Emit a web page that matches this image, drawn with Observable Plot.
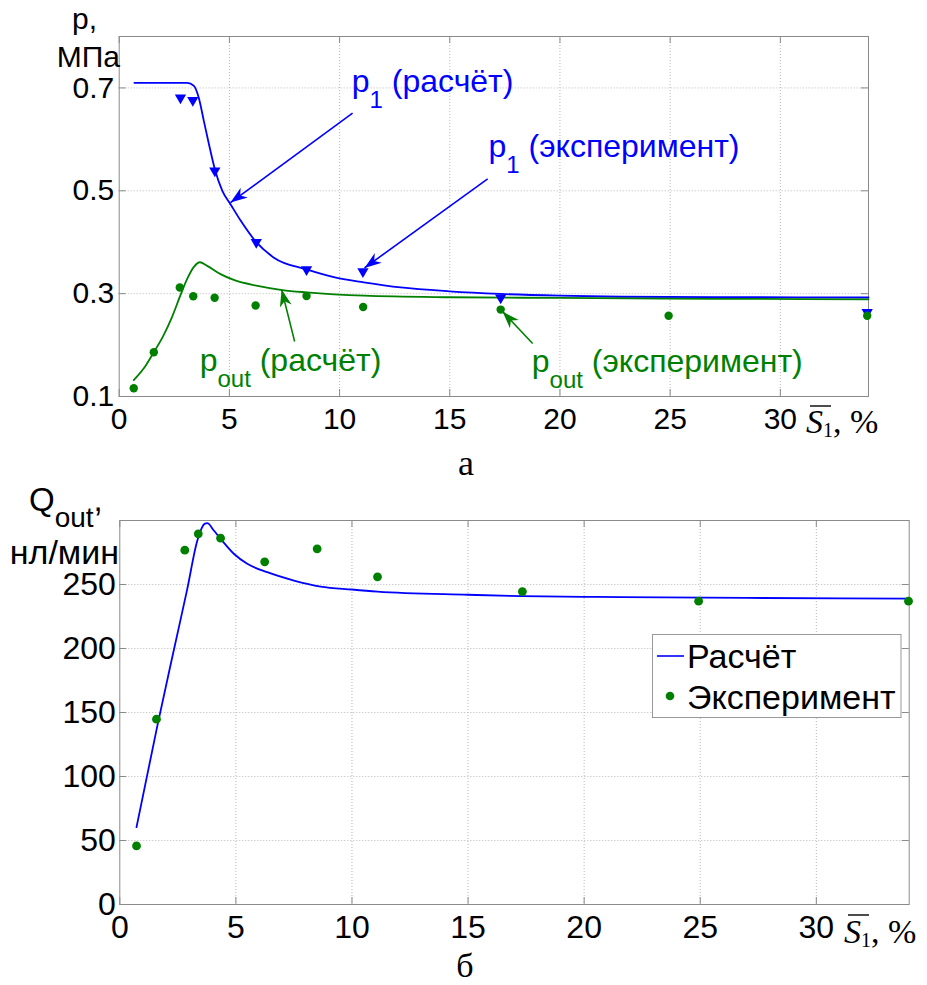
<!DOCTYPE html>
<html>
<head>
<meta charset="utf-8">
<script src="https://cdn.jsdelivr.net/npm/d3@7"></script>
<script src="https://cdn.jsdelivr.net/npm/@observablehq/plot@0.6"></script>
<style>
  body { margin: 0; background: #fff; }
  #wrap { position: relative; width: 927px; height: 985px; overflow: hidden; background: #fff; }
  #top, #bot, #ovl { position: absolute; left: 0; }
  #top { top: 0; }
  #bot { top: 480px; }
  #ovl { top: 0; pointer-events: none; }
  #ovl text { white-space: pre; }
</style>
</head>
<body>
<div id="wrap">
  <div id="top"></div>
  <div id="bot"></div>
  <svg id="ovl" width="927" height="985"></svg>
</div>
<script>
// ---------- data ----------
// Panel а: pressure p (MPa) vs S1 (%)
const sP1Calc   = [0.69, 2.5, 3.09, 3.39, 3.61, 3.84, 4.07, 4.34, 4.68, 5.05, 5.51, 6.22, 7.02, 8.5, 9.74, 11.1, 12.77, 14.98, 17.31, 19.97, 22.75, 27, 34];
const p1Calc    = [0.710, 0.710, 0.710, 0.704, 0.681, 0.636, 0.591, 0.542, 0.500, 0.474, 0.442, 0.400, 0.370, 0.347, 0.332, 0.322, 0.312, 0.3045, 0.2994, 0.296, 0.294, 0.2933, 0.2925];
const sPoutCalc = [0.66, 1.2, 1.57, 2.0, 2.4, 2.78, 3.1, 3.39, 3.66, 3.99, 4.6, 5.2, 6.22, 7.4, 8.5, 11.1, 14.98, 19.97, 27, 34];
const poutCalc  = [0.132, 0.160, 0.186, 0.218, 0.255, 0.297, 0.330, 0.352, 0.361, 0.354, 0.338, 0.3266, 0.3155, 0.307, 0.3025, 0.296, 0.293, 0.2917, 0.290, 0.289];
const sP1Exp    = [2.78, 3.34, 4.34, 6.22, 8.5, 11.06, 17.31, 33.94];
const p1Exp     = [0.681, 0.676, 0.539, 0.400, 0.347, 0.343, 0.292, 0.264];
const sPoutExp  = [0.66, 1.57, 2.75, 3.36, 4.33, 6.19, 8.5, 11.07, 17.31, 24.93, 33.94];
const poutExp   = [0.116, 0.186, 0.312, 0.295, 0.292, 0.277, 0.2955, 0.274, 0.269, 0.257, 0.257];

// Panel б: flow Q_out (nl/min) vs S1 (%)
const sQCalc = [0.72, 1.61, 2.33, 2.9, 3.34, 3.65, 3.77, 4.05, 4.34, 4.91, 5.49, 6.35, 7.5, 8.65, 10.0, 11.1, 15.0, 17.34, 19.97, 21.6, 27, 34];
const qCalc  = [60.4, 139, 199, 246, 284.4, 297.4, 297.9, 292.2, 285.7, 274, 266.2, 259.6, 253.1, 248.4, 246.1, 244.5, 242, 240.9, 240.4, 240.1, 239.5, 239];
const sQExp  = [0.72, 1.58, 2.8, 3.38, 4.34, 6.24, 8.5, 11.1, 17.34, 24.93, 33.97];
const qExp   = [45.8, 144.8, 276.8, 289.6, 286.2, 267.7, 277.9, 256, 244.5, 237, 237];

// ticks
const xTicks = [0, 5, 10, 15, 20, 25, 30];
const pTicks = [0.1, 0.3, 0.5, 0.7];
const qTicks = [0, 50, 100, 150, 200, 250];

// annotations of panel а (data units); "|" marks a subscript
const annText   = ["p|1| (расчёт)", "p|1| (эксперимент)", "p|out| (расчёт)", "p|out| (эксперимент)"];
const annX      = [10.55, 16.76, 3.65, 18.72];
const annY      = [0.693, 0.565, 0.1505, 0.148];
const annColor  = ["#0000ff", "#0000ff", "#008000", "#008000"];
const arrX1 = [10.59, 16.72, 7.96, 18.76];
const arrY1 = [0.651, 0.523, 0.207, 0.203];
const arrX2 = [5.05, 11.13, 7.37, 17.40];
const arrY2 = [0.477, 0.350, 0.308, 0.265];

const legendLabels = ["Расчёт", "Эксперимент"];

// ---------- build ----------
const BLUE = "#0000ff", GREEN = "#008000", GRID = "#b8b8b8", FRAME = "#8a8a8a";
const NS = "http://www.w3.org/2000/svg";
const zip = (xs, ys) => xs.map((s, i) => ({s, v: ys[i]}));

const TOP = {width: 927, height: 440, m: {top: 36, right: 59, bottom: 44, left: 118.7}, xDomain: [0, 34], yDomain: [0.1, 0.8]};
const topIW = TOP.width - TOP.m.left - TOP.m.right, topIH = TOP.height - TOP.m.top - TOP.m.bottom;
const kx = topIW / (TOP.xDomain[1] - TOP.xDomain[0]), ky = topIH / (TOP.yDomain[1] - TOP.yDomain[0]);

const annots = annText.map((t, i) => ({t, x: annX[i], y: annY[i], color: annColor[i]}));
const arrows = arrX1.map((x1, i) => ({
  x1, y1: arrY1[i], x2: arrX2[i], y2: arrY2[i], color: annColor[i],
  angle: Math.atan2((arrX2[i] - x1) * kx, (arrY2[i] - arrY1[i]) * ky) * 180 / Math.PI
}));

// filled arrowhead: tip at origin, pointing up
const arrowHead = {
  draw(context) {
    context.moveTo(0, 0);
    context.lineTo(-6, 17);
    context.lineTo(0, 12);
    context.lineTo(6, 17);
    context.closePath();
  }
};

function subscriptify(root, subSize, shift) {
  root.querySelectorAll("text").forEach(el => {
    const s = el.textContent;
    if (!s.includes("|")) return;
    const [a, b, c] = s.split("|");
    el.textContent = "";
    const mk = (t, attrs) => {
      const ts = document.createElementNS(NS, "tspan");
      ts.textContent = t;
      for (const k in attrs) ts.setAttribute(k, attrs[k]);
      el.appendChild(ts);
    };
    mk(a, {});
    mk(b, {dy: shift, "font-size": subSize});
    mk(c, {dy: -shift});
  });
}

function panel({width, height, m, xDomain, yDomain, yTicks, yFmt, fontSize, yPad, marks}) {
  const iw = width - m.left - m.right, ih = height - m.top - m.bottom;
  return Plot.plot({
    width, height,
    marginTop: m.top, marginRight: m.right, marginBottom: m.bottom, marginLeft: m.left,
    style: `font-family: 'Liberation Sans', Arial, sans-serif; font-size: ${fontSize}px; color: #000; background: transparent; overflow: visible;`,
    color: {type: "identity"},
    x: {domain: xDomain, ticks: xTicks, tickSize: 0, tickPadding: 11, label: null},
    y: {domain: yDomain, ticks: yTicks, tickSize: 0, tickPadding: yPad, label: null, tickFormat: yFmt},
    marks: [
      Plot.ruleX(xTicks.slice(1), {stroke: GRID, strokeDasharray: "1,2"}),
      Plot.ruleY(yTicks.slice(1), {stroke: GRID, strokeDasharray: "1,2"}),
      Plot.tickX(xTicks, {x: d => d, stroke: FRAME, insetTop: ih - 7}),
      Plot.tickX(xTicks, {x: d => d, stroke: FRAME, insetBottom: ih - 7}),
      Plot.tickY(yTicks, {y: d => d, stroke: FRAME, insetRight: iw - 7}),
      Plot.tickY(yTicks, {y: d => d, stroke: FRAME, insetLeft: iw - 7}),
      Plot.frame({stroke: FRAME}),
      ...marks
    ]
  });
}

const topPlot = panel({
  ...TOP, yTicks: pTicks, yFmt: d3.format(".1f"),
  fontSize: 30, yPad: 5,
  marks: [
    Plot.line(zip(sP1Calc, p1Calc), {x: "s", y: "v", stroke: BLUE, strokeWidth: 1.8, curve: "monotone-x"}),
    Plot.line(zip(sPoutCalc, poutCalc), {x: "s", y: "v", stroke: GREEN, strokeWidth: 1.8, curve: "monotone-x"}),
    Plot.dot(zip(sP1Exp, p1Exp), {x: "s", y: "v", symbol: "triangle", rotate: 180, r: 4.2, fill: BLUE}),
    Plot.dot(zip(sPoutExp, poutExp), {x: "s", y: "v", r: 4.2, fill: GREEN}),
    Plot.link(arrows, {x1: "x1", y1: "y1", x2: "x2", y2: "y2", stroke: "color", strokeWidth: 1.6}),
    Plot.dot(arrows, {x: "x2", y: "y2", symbol: arrowHead, rotate: "angle", fill: "color", stroke: null}),
    Plot.text(annots, {x: "x", y: "y", text: "t", fill: "color", fontSize: 32, textAnchor: "start", lineAnchor: "bottom"})
  ]
});
subscriptify(topPlot, 24, 16);
document.getElementById("top").appendChild(topPlot);

const botPlot = panel({
  width: 927, height: 470,
  m: {top: 40, right: 18.3, bottom: 46, left: 119.3},
  xDomain: [0, 34], yDomain: [0, 300], yTicks: qTicks, yFmt: d3.format("d"),
  fontSize: 32, yPad: 4,
  marks: [
    Plot.line(zip(sQCalc, qCalc), {x: "s", y: "v", stroke: BLUE, strokeWidth: 1.8, curve: "monotone-x"}),
    Plot.dot(zip(sQExp, qExp), {x: "s", y: "v", r: 4.4, fill: GREEN})
  ]
});
document.getElementById("bot").appendChild(botPlot);

// ---------- overlay: axis titles, captions, legend ----------
const ovl = d3.select("#ovl");
const SANS = "'Liberation Sans', Arial, sans-serif";
const SERIF = "'Liberation Serif', 'Times New Roman', serif";

function label(x, y, parts, {family = SANS, size = 30, anchor = "start"} = {}) {
  const t = ovl.append("text").attr("x", x).attr("y", y)
    .attr("font-family", family).attr("font-size", size).attr("text-anchor", anchor).attr("fill", "#000");
  for (const p of parts) {
    const ts = t.append("tspan").text(p.t);
    if (p.size) ts.attr("font-size", p.size);
    if (p.dy) ts.attr("dy", p.dy);
    if (p.italic) ts.attr("font-style", "italic");
  }
  return t;
}

// panel а
label(72, 29, [{t: "p,"}], {size: 30});
label(120, 66.7, [{t: "МПа"}], {size: 30, anchor: "end"});
label(806, 433, [{t: "S", italic: true}, {t: "1", size: 20, dy: 4}, {t: ", %", dy: -4}], {family: SERIF, size: 34});
ovl.append("line").attr("x1", 810).attr("x2", 831).attr("y1", 406).attr("y2", 406).attr("stroke", "#000").attr("stroke-width", 1.4);
label(466, 475, [{t: "а"}], {family: SERIF, size: 36, anchor: "middle"});

// panel б
label(29, 511, [{t: "Q"}, {t: "out", size: 28, dy: 16}, {t: ",", dy: -16}], {size: 33});
label(119, 564, [{t: "нл/мин"}], {size: 34, anchor: "end"});
label(844, 943, [{t: "S", italic: true}, {t: "1", size: 20, dy: 4}, {t: ", %", dy: -4}], {family: SERIF, size: 34});
ovl.append("line").attr("x1", 848).attr("x2", 869).attr("y1", 915).attr("y2", 915).attr("stroke", "#000").attr("stroke-width", 1.4);
label(465, 977, [{t: "б"}], {family: SERIF, size: 34, anchor: "middle"});

// legend of panel б
ovl.append("rect").attr("x", 652.5).attr("y", 634.5).attr("width", 248.5).attr("height", 83)
  .attr("fill", "#fff").attr("stroke", "#999").attr("stroke-width", 1);
ovl.append("line").attr("x1", 657).attr("x2", 684).attr("y1", 656).attr("y2", 656).attr("stroke", BLUE).attr("stroke-width", 1.6);
ovl.append("circle").attr("cx", 670).attr("cy", 696).attr("r", 4.3).attr("fill", GREEN);
label(687, 667.7, [{t: legendLabels[0]}], {size: 34});
label(687, 708.7, [{t: legendLabels[1]}], {size: 34});
</script>
</body>
</html>
